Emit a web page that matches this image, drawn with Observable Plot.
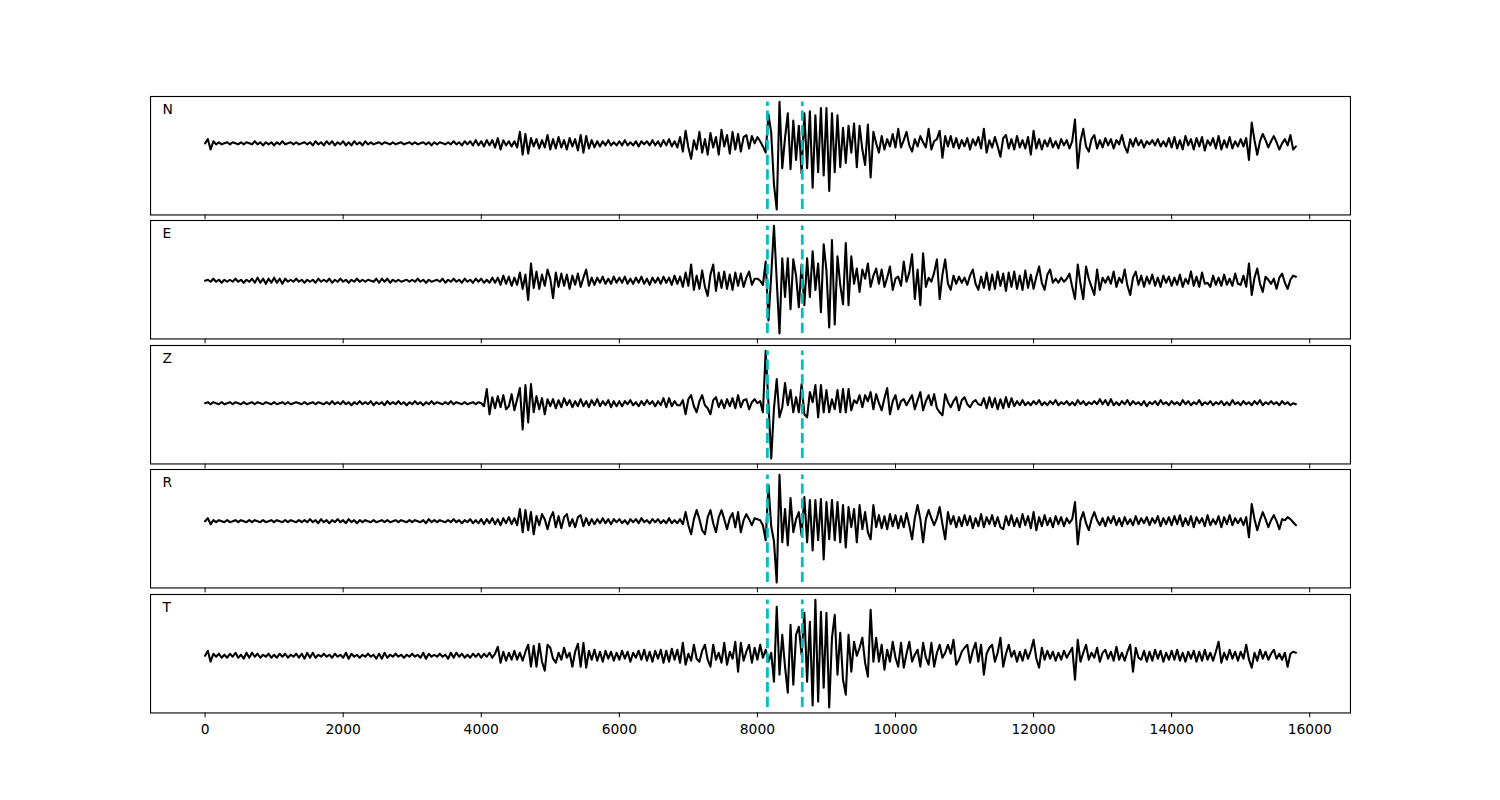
<!DOCTYPE html>
<html>
<head>
<meta charset="utf-8">
<script src="https://cdn.jsdelivr.net/npm/d3@7"></script>
<script src="https://cdn.jsdelivr.net/npm/@observablehq/plot@0.6"></script>
<style>
  body { margin: 0; background: #fff; }
  #chart { position: relative; width: 1500px; height: 800px; font-family: "DejaVu Sans", sans-serif; }
  #chart svg { position: absolute; left: 0; overflow: visible; }
</style>
</head>
<body>
<div id="chart"></div>
<script>
// sample interval (one value every 40 time units, t = 0 … 15800)
const sampleStep = 40;
const components = ["N", "E", "Z", "R", "T"];
const picks = [8145, 8650];
const xTicks = [0, 2000, 4000, 6000, 8000, 10000, 12000, 14000, 16000];

// each row = 1000 time units (25 samples); last row 15000-15800 (21 samples)
const N = [
  0,4,-6,2,-1,1,-1,0,1,-1,1,0,-1,1,-1,1,0,-1,2,-1,1,-2,1,-1,1,
  -2,1,-1,2,-1,0,1,-1,1,-1,0,1,-1,1,-2,2,-1,1,-2,2,-1,2,-2,1,-1,
  2,-2,1,-2,2,-1,1,-2,2,-1,1,-1,0,1,-1,1,0,-1,1,-1,0,1,-1,0,1,
  -1,1,-1,0,1,-1,1,-2,1,-1,1,0,-1,1,-1,2,-1,1,-2,2,-1,2,-2,3,-2,
  2,-3,3,-2,3,-4,5,-6,3,-2,2,-3,2,-4,11,-11,9,-10,5,-3,4,-5,3,-4,8,
  -6,4,-5,6,-4,3,-6,5,-3,4,-7,8,-9,7,-5,3,-4,2,-3,2,-2,3,-2,1,-2,
  2,-2,3,-2,1,-2,2,-3,2,-1,2,-2,3,-2,2,-3,3,-2,4,-3,2,-4,6,-8,12,
  -4,-15,3,-6,11,-9,4,-11,10,-4,6,-11,13,-3,8,-10,11,-6,9,-8,6,8,-5,7,0,
  6,2,-3,-9,28,10,-40,-64,40,-24,5,29,-25,22,-16,17,-29,29,-24,31,-43,27,-28,34,-31,
  34,-46,29,-28,27,-23,15,-19,17,-9,19,-23,17,-6,-21,18,-33,11,0,-9,7,-6,4,-3,9,
  -4,14,-4,3,11,-2,-8,4,-3,7,1,-4,14,-6,2,4,12,-14,7,-3,7,-4,5,-5,3,
  -3,5,-6,4,-2,6,-5,14,-9,3,-4,6,-3,-13,5,8,-5,4,-6,7,-4,3,-5,6,-11,
  12,-5,4,-6,3,-3,5,-4,2,-5,4,-2,3,-5,2,23,-24,2,14,-3,-8,4,8,-5,3,
  -4,5,-2,4,-5,3,-1,8,-3,-9,4,-3,5,-2,3,-4,2,-1,3,-2,4,-3,2,-3,5,
  -4,6,-5,3,-6,7,-2,4,-6,5,-3,6,-7,3,-2,5,-5,7,-6,3,-4,6,-5,2,-3,
  4,-3,5,-16,20,3,-11,2,9,3,-4,2,7,1,-6,0,4,-2,8,-6,-3
];
const E = [
  0,1,-1,2,-1,1,-2,1,-1,1,-1,2,-1,1,-2,1,-1,2,-2,3,-2,2,-3,2,-2,
  3,-2,2,-3,2,-1,1,-1,2,-1,1,-2,1,-1,1,-2,2,-1,1,-1,2,-2,1,-1,2,
  -1,1,-2,1,-1,2,-1,1,-1,1,0,-1,2,-2,2,-1,2,-2,1,-1,1,-1,0,1,-1,
  1,-1,2,-1,1,-2,1,-1,0,1,-1,2,-2,1,-1,2,-1,1,-2,2,-1,1,-2,2,-1,
  2,-2,1,-2,3,-2,3,-4,5,-3,4,-5,3,-4,8,-8,6,-19,17,-7,9,-8,6,-5,11,
  2,-17,8,-6,7,-5,6,-8,5,-4,7,-6,3,11,-5,3,-4,3,-2,4,-3,2,-3,4,-2,
  3,-2,4,-3,2,-3,3,-2,4,-3,2,-4,3,-2,3,-3,4,-2,3,-4,5,-3,4,-6,8,
  -5,16,-9,5,-8,10,-6,-15,6,16,-10,8,-7,9,-8,6,-9,8,-5,7,-6,3,9,-4,2,
  2,0,-4,19,-39,5,54,0,-52,22,-16,22,-28,21,5,-26,16,-24,22,-16,29,-9,17,-31,36,
  10,-46,40,-43,24,-4,-23,37,-24,24,-3,12,-11,11,2,17,-6,5,12,-3,11,-6,3,14,-9,
  2,4,-5,19,-1,8,26,-18,11,-24,27,-6,3,-1,8,21,-18,6,21,-3,-9,5,-3,4,-2,
  3,-4,5,11,-3,-9,4,-7,8,-9,6,-8,9,-5,7,-10,8,-6,9,-8,5,-9,10,-7,6,
  -8,4,14,-2,-9,6,11,-2,2,-2,3,-1,2,7,-6,-18,16,-3,-18,14,2,-6,-14,11,-9,
  3,-2,4,-3,9,-6,3,-2,11,-5,-14,3,9,-4,5,-6,4,-3,6,-5,3,-6,5,-2,4,
  -5,3,-4,6,-6,2,-3,9,-5,4,-6,8,-3,-2,-6,5,-4,3,-5,6,-4,2,-5,7,-3,
  -4,5,-6,17,-14,3,12,-3,-11,4,1,-3,2,-8,3,7,-2,-8,1,5,4
];
const Z = [
  0,1,-1,1,0,-1,1,-1,0,1,-1,1,0,-1,1,-1,0,1,-1,1,0,-1,1,0,-1,
  1,-1,0,1,-1,1,-1,0,1,0,-1,1,-1,0,1,-1,1,0,-1,1,-1,2,-1,1,-1,
  2,-1,1,-2,1,-1,2,-1,1,-1,2,-2,1,-1,1,-2,2,-1,1,-1,2,-1,1,-2,1,
  -1,2,-1,1,-2,1,-1,2,-1,1,0,-1,1,-1,2,-1,1,0,-1,1,-1,0,1,-1,1,
  0,-3,14,-11,6,-5,7,-4,8,-6,-3,9,-7,4,15,-26,18,-19,19,-9,7,-6,5,-11,4,
  -3,4,-5,3,-4,5,-2,3,-4,2,-3,4,-3,2,-4,3,-2,4,-3,2,-2,3,-4,2,-3,
  2,-3,2,-1,3,-2,1,-3,2,-2,3,-1,2,-3,2,-2,5,-4,5,-3,2,-2,-2,3,-11,
  4,8,-3,-9,2,8,-2,-5,-11,3,6,-4,3,-5,4,-3,5,-5,8,-4,3,4,-6,1,4,
  0,2,-9,52,0,-55,-5,24,-14,-4,20,-2,13,-9,6,-9,19,-11,-14,11,1,18,-14,18,-9,
  13,-9,4,-6,13,-9,14,-9,14,-7,3,0,8,-4,8,2,11,-6,9,0,-7,5,15,-11,2,
  8,-6,2,4,-2,3,8,-6,3,11,-7,2,8,-2,9,-5,-9,-12,9,1,-4,2,6,-7,3,
  6,-1,-4,1,3,-1,-2,5,-5,6,-4,5,-6,4,-5,6,-4,5,-3,2,-2,3,-2,1,-2,
  2,-1,3,-2,1,-2,2,-1,3,-2,1,-1,2,-2,1,-2,3,-1,2,-2,1,-1,2,-1,4,
  -1,3,-2,4,-2,1,-2,2,-1,3,-2,2,-1,1,-2,2,-3,1,-1,2,-2,3,-1,1,-2,
  2,-1,1,-2,3,-1,2,-2,1,-1,3,-2,1,-1,2,-2,1,-1,2,-2,1,-2,3,-1,1,
  -2,2,-1,1,-2,2,-1,3,-2,1,-1,2,-1,1,-2,2,-1,1,-2,0,-1
];
const R = [
  0,3,-3,1,-1,1,0,-1,1,-1,0,1,-1,1,0,-1,1,-1,1,0,-1,1,-1,0,1,
  -1,1,0,-1,1,-1,1,0,-1,1,-1,1,-1,2,-1,1,-2,2,-1,1,-2,1,-1,2,-1,
  1,-2,2,-1,1,-2,1,-1,1,0,-1,1,-1,0,1,-1,1,-1,0,1,-1,1,0,-1,1,
  -1,1,0,-1,1,-2,2,-1,1,-1,1,0,-1,1,-1,2,-1,1,-2,1,-1,2,-2,1,-2,
  2,-3,2,-2,3,-3,2,-4,3,-2,4,-3,3,-4,12,-11,11,-9,9,-13,5,-4,7,2,-8,
  3,9,-6,5,-7,4,7,-5,2,-6,4,6,-5,3,-4,2,-3,2,-2,3,-2,2,-3,2,-1,
  2,-2,1,-3,2,-1,2,-2,3,-1,1,-2,2,-1,2,-2,1,-2,3,-2,1,-2,2,-3,9,
  -4,-13,2,11,2,-9,-13,4,11,-2,-11,4,11,2,-8,3,8,-6,9,-11,1,7,2,-4,3,
  2,1,-4,-19,36,-5,-20,-61,46,-21,12,-24,23,-11,2,9,-14,24,-21,21,-29,21,-19,22,-38,
  19,-18,21,-19,19,-21,16,-26,14,-6,12,-21,16,-8,9,-11,-18,16,-6,6,-7,5,-8,7,-5,
  6,-7,5,-6,8,-4,-18,3,16,2,-21,2,11,3,-4,3,14,-3,-18,9,-3,5,-6,4,-5,
  6,-4,5,-7,3,-5,7,-6,4,-3,6,-5,4,-6,-8,5,-4,6,-5,3,-6,7,-4,5,-7,
  9,-9,4,-5,6,-4,3,-6,5,-3,4,-5,3,-2,2,19,-23,1,9,-2,-9,2,9,1,-4,
  3,-5,4,-2,5,-4,3,-5,4,-3,2,-4,5,-3,3,-2,4,-4,3,-2,5,-5,3,-3,4,
  -4,5,-3,6,-5,3,-4,5,-6,4,-2,3,-5,6,-4,2,-3,5,-6,4,-3,6,-4,3,-2,
  3,-4,4,-16,17,2,-9,1,9,2,-6,1,6,0,-8,2,1,4,2,-1,-4
];
const T = [
  0,5,-6,2,-1,2,-2,1,-2,2,-1,3,-2,1,-3,3,-2,3,-1,2,-2,1,-1,2,-2,
  1,-2,2,-1,2,-2,1,-1,2,-2,2,-3,3,-2,3,-2,1,-1,2,-1,1,-2,2,-1,1,
  -2,3,-3,2,-1,1,-2,1,-1,2,-1,1,-3,2,-3,3,-2,1,-1,2,-1,1,-2,1,-1,
  2,-1,1,-2,3,-3,2,-1,1,-1,2,-1,1,-3,3,-2,3,-1,2,-2,1,-2,2,-1,2,
  -2,2,-1,3,-2,2,9,-7,4,-5,3,-4,5,-4,3,-5,4,11,-11,10,-11,12,-6,-15,11,
  8,-3,-7,3,-4,8,-2,3,-11,4,12,-11,13,-12,5,-4,6,-5,4,-6,5,-3,4,-5,3,
  -4,5,-3,4,-6,3,-2,5,-4,6,-5,4,-6,5,-3,6,-7,5,-6,7,-4,6,-7,13,-9,
  2,-5,11,-3,-6,5,11,-4,-11,11,-4,3,-7,13,-9,4,-3,14,-16,13,-5,4,11,-7,8,
  -4,11,-2,6,-6,3,-26,49,-19,21,-11,-37,31,-29,21,29,1,43,-26,34,-50,56,-46,44,-32,
  43,-52,18,41,-19,23,-24,-39,21,-16,14,0,8,18,-7,-21,46,-6,18,-6,11,-14,6,-6,14,
  -2,-11,13,-12,2,14,-6,1,6,-11,13,-2,-9,13,-11,3,11,-2,3,11,2,16,-9,-4,4,
  8,11,-7,5,13,-6,11,-19,2,8,11,-6,3,18,-11,2,11,-1,5,-6,4,-5,6,-3,5,
  16,-3,-12,8,-4,5,-3,4,-5,3,-4,5,-2,3,8,-24,16,-6,3,11,-4,3,-2,8,-6,
  3,6,-3,4,-5,9,-4,3,-5,4,11,-16,8,-2,-4,5,-6,4,-5,6,-3,5,-6,3,-4,
  5,-4,6,-5,3,-6,4,-3,5,-6,4,-5,6,-4,3,-5,4,14,-7,3,-4,6,-3,4,-5,
  4,-3,11,-4,-12,3,-5,6,-3,4,-4,2,6,-3,2,-4,3,-11,2,4,3
];
const traces = { N, E, Z, R, T };

// layout (matplotlib-like subplot grid; 1 pt = 100/72 px)
const pt = 100 / 72;
const figTop = 96, figBottom = 712, gapRatio = 0.05;
const panelH = (figBottom - figTop) / (components.length + (components.length - 1) * gapRatio);
const fontFamily = "DejaVu Sans";
const chart = document.getElementById("chart");

components.forEach((comp, k) => {
  const vals = traces[comp];
  const data = vals.map((v, i) => ({ t: i * sampleStep, v }));
  const lo = d3.min(vals), hi = d3.max(vals);
  const pad = (hi - lo) * 0.05;
  const tMax = (vals.length - 1) * sampleStep;
  const tPad = tMax * 0.05;
  const last = k === components.length - 1;
  const mt = 2, mb = last ? 40 : 8;
  const top = figTop + k * panelH * (1 + gapRatio);

  const svg = Plot.plot({
    width: 1500,
    height: panelH + mt + mb,
    marginLeft: 150,
    marginRight: 150,
    marginTop: mt,
    marginBottom: mb,
    style: { fontFamily, fontSize: "13.9px", color: "black", background: "transparent" },
    x: {
      domain: [-tPad, tMax + tPad],
      ticks: xTicks,
      tickSize: 3.5 * pt,
      tickPadding: 6.1,
      tickFormat: last ? d3.format("d") : () => "",
      label: null
    },
    y: { domain: [lo - pad, hi + pad], axis: null },
    marks: [
      Plot.line(data, { x: "t", y: "v", stroke: "black", strokeWidth: 1.5 * pt, strokeLinejoin: "round" }),
      Plot.ruleX(picks, { y1: lo, y2: hi, stroke: "#00bfbf", strokeWidth: 2 * pt, strokeDasharray: `${3.7 * 2 * pt},${1.6 * 2 * pt}` }),
      Plot.frame({ stroke: "black", strokeWidth: 0.8 * pt }),
      Plot.text([comp], {
        frameAnchor: "top-left", textAnchor: "start", lineAnchor: "bottom",
        dx: 12, dy: panelH * 0.15, fill: "black", fontSize: 13.9, fontFamily
      })
    ]
  });
  svg.style.top = (top - mt) + "px";
  chart.appendChild(svg);
});
</script>
</body>
</html>
